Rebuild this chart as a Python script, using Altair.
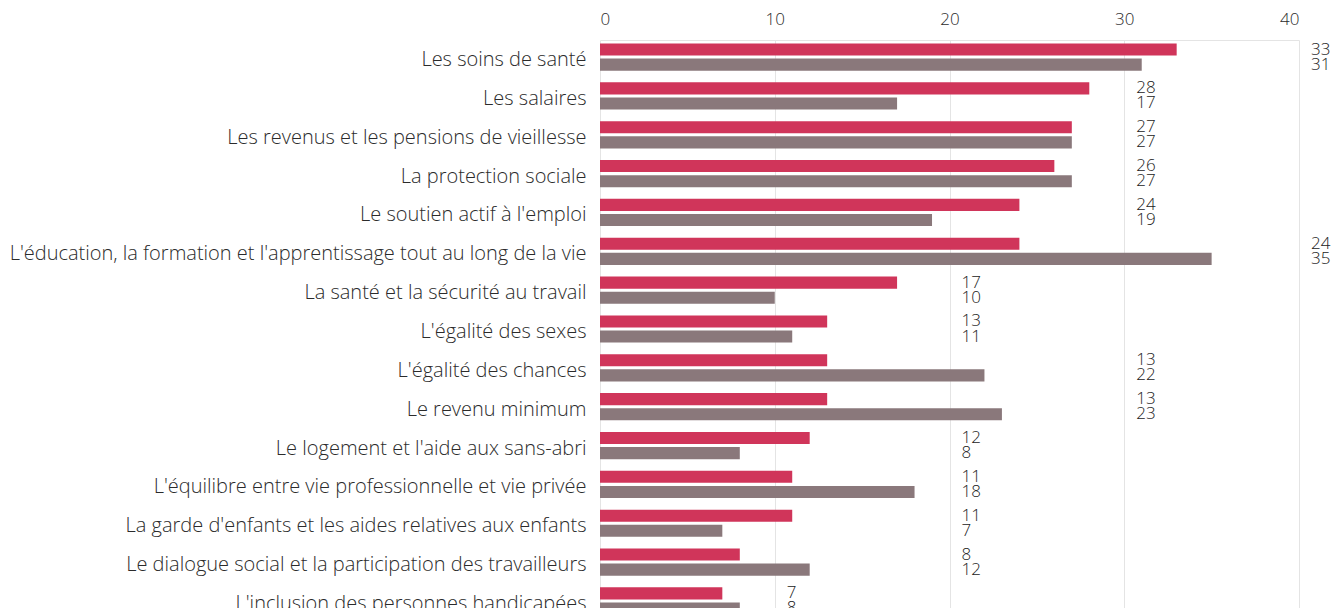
import altair as alt
import pandas as pd

categories = [
    "Les soins de santé",
    "Les salaires",
    "Les revenus et les pensions de vieillesse",
    "La protection sociale",
    "Le soutien actif à l'emploi",
    "L'éducation, la formation et l'apprentissage tout au long de la vie",
    "La santé et la sécurité au travail",
    "L'égalité des sexes",
    "L'égalité des chances",
    "Le revenu minimum",
    "Le logement et l'aide aux sans-abri",
    "L'équilibre entre vie professionnelle et vie privée",
    "La garde d'enfants et les aides relatives aux enfants",
    "Le dialogue social et la participation des travailleurs",
    "L'inclusion des personnes handicapées",
]
series_a = [33, 28, 27, 26, 24, 24, 17, 13, 13, 13, 12, 11, 11, 8, 7]
series_b = [31, 17, 27, 27, 19, 35, 10, 11, 22, 23, 8, 18, 7, 12, 8]
series_names = ["UE27", "Pays"]
series_colors = ["#d0355a", "#8a787b"]
x_ticks = [0, 10, 20, 30, 40]

rows = []
for c, a, b in zip(categories, series_a, series_b):
    rows.append({"cat": c, "serie": series_names[0], "val": a})
    rows.append({"cat": c, "serie": series_names[1], "val": b})
df = pd.DataFrame(rows)

FONT = "Open Sans"

base = alt.Chart(df).encode(
    y=alt.Y(
        "cat:N",
        sort=categories,
        title=None,
        scale=alt.Scale(paddingInner=0.3, paddingOuter=0.09, range=[0, 578]),
        axis=alt.Axis(
            labelFontSize=20,
            labelFontWeight=300,
            labelColor="#2b2b2b",
            labelFont=FONT,
            ticks=False,
            domain=False,
            labelPadding=14,
            labelLimit=0,
            labelOffset=3,
        ),
    ),
    yOffset=alt.YOffset("serie:N", sort=series_names, scale=alt.Scale(paddingInner=0.2)),
)

bars = base.mark_bar().encode(
    x=alt.X(
        "val:Q",
        title=None,
        scale=alt.Scale(domain=[0, 40]),
        axis=alt.Axis(
            orient="top",
            values=x_ticks,
            grid=True,
            gridColor="#e4e4e4",
            domainColor="#e4e4e4",
            ticks=False,
            labelFontSize=17,
            labelFontWeight=300,
            labelColor="#2b2b2b",
            labelFont=FONT,
            labelPadding=12,
        ),
    ),
    color=alt.Color(
        "serie:N",
        sort=series_names,
        scale=alt.Scale(domain=series_names, range=series_colors),
        legend=None,
    ),
)

labels = (
    base.transform_joinaggregate(mx="max(val)", groupby=["cat"])
    .transform_calculate(pos="ceil(datum.mx / 10) * 10")
    .mark_text(align="left", baseline="middle", dx=12, fontSize=17, fontWeight=300,
               color="#222222", font=FONT)
    .encode(x=alt.X("pos:Q", title=None), text=alt.Text("val:Q"))
)

chart = (
    alt.layer(bars, labels)
    .properties(
        width=699,
        height=568,
        autosize=alt.AutoSizeParams(type="none"),
        padding={"left": 592, "top": 32, "right": 34, "bottom": 0},
    )
    .configure_view(stroke=None)
)

chart.save("out.html", embed_options={"renderer": "svg", "actions": False})
